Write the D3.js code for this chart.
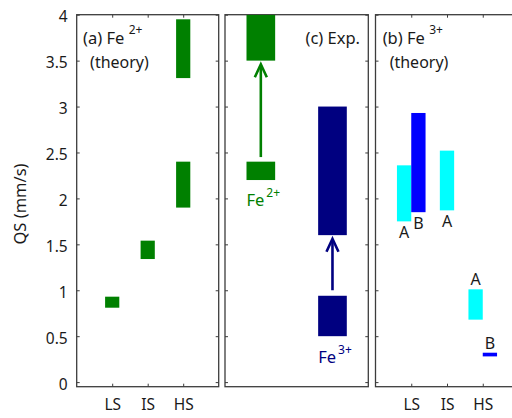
<!DOCTYPE html>
<meta charset="utf-8">
<script src="https://cdn.jsdelivr.net/npm/d3@7"></script>
<style>
body { margin: 0; background: #fff; }
svg text { font-family: "Noto Sans", "Open Sans", sans-serif; fill: #1a1a1a; }
.tick line { stroke: #3c3c3c; stroke-width: 1; }
.tick text { font-size: 15.5px; fill: #1a1a1a; }
.frame { fill: none; stroke: #3c3c3c; stroke-width: 1.3; }
</style>
<body>
<script>

// spin states on the x axis
var states = ["LS", "IS", "HS"]
var yTicks = [0, 0.5, 1, 1.5, 2, 2.5, 3, 3.5, 4]
var yTickLabels = ["0", "0.5", "1", "1.5", "2", "2.5", "3", "3.5", "4"]

// (a) Fe2+ theory: QS ranges per spin state
var fe2State = ["LS", "IS", "HS", "HS"]
var fe2Lo = [0.81, 1.34, 1.90, 3.31]
var fe2Hi = [0.93, 1.54, 2.40, 3.95]

// (b) Fe3+ theory: QS ranges per spin state and site
var fe3State = ["LS", "LS", "IS", "HS", "HS"]
var fe3Site = ["A", "B", "A", "A", "B"]
var fe3Lo = [1.75, 1.85, 1.87, 0.68, 0.28]
var fe3Hi = [2.36, 2.93, 2.52, 1.01, 0.32]

// (c) experiment: ranges for Fe2+ and Fe3+, arrows between them
var expFe2Lo = [2.20, 3.50]
var expFe2Hi = [2.40, 4.00]
var expFe3Lo = [0.50, 1.60]
var expFe3Hi = [0.94, 3.00]
var arrowFe2 = [2.45, 3.46]
var arrowFe3 = [1.00, 1.56]

var green = "#008000", navy = "#000080", cyan = "#00ffff", blue = "#0000ff"

var svg = d3.select("body").append("svg")
            .attr("width", 512)
            .attr("height", 418)

var top_ = 14.7, bottom = 386.7
var y = d3.scaleLinear().domain([-0.05, 4]).range([bottom, top_])

var panels = {
  a: [76.7, 218.7],
  c: [225, 368.3],
  b: [375.5, 518.5]
}

function make_panel(name, opts) {
  var r = panels[name]
  var x = d3.scaleLinear().domain([0, 4]).range(r)
  var g = svg.append("g").attr("id", "panel_" + name)

  // left y ticks
  g.append("g")
   .attr("transform", "translate(" + r[0] + ",0)")
   .call(d3.axisLeft(y).tickValues(yTicks).tickSize(-3).tickPadding(9)
           .tickFormat(function(d, i) { return opts.yLabels ? yTickLabels[i] : "" }))
   .call(function(s) { s.select(".domain").remove(); s.selectAll("text").attr("dy", "0.45em") })
  // right y ticks
  g.append("g")
   .attr("transform", "translate(" + r[1] + ",0)")
   .call(d3.axisRight(y).tickValues(yTicks).tickSize(-3).tickFormat(""))
   .call(function(s) { s.select(".domain").remove() })

  if (opts.xTicks) {
    g.append("g")
     .attr("transform", "translate(0," + bottom + ")")
     .call(d3.axisBottom(x).tickValues([1, 2, 3]).tickSize(-3).tickPadding(12)
             .tickFormat(function(d, i) { return states[i] }))
     .call(function(s) { s.select(".domain").remove() })
    g.append("g")
     .attr("transform", "translate(0," + top_ + ")")
     .call(d3.axisTop(x).tickValues([1, 2, 3]).tickSize(-3).tickFormat(""))
     .call(function(s) { s.select(".domain").remove() })
  }

  g.append("rect")
   .attr("class", "frame")
   .attr("x", r[0]).attr("y", top_)
   .attr("width", r[1] - r[0]).attr("height", bottom - top_)

  var clipId = "clip_" + name
  svg.append("clipPath").attr("id", clipId).append("rect")
     .attr("x", r[0]).attr("y", top_)
     .attr("width", r[1] - r[0]).attr("height", bottom - top_)
  var plot = g.append("g").attr("clip-path", "url(#" + clipId + ")")

  return { x: x, g: g, plot: plot }
}

var pa = make_panel("a", { yLabels: true, xTicks: true })
var pc = make_panel("c", { yLabels: false, xTicks: false })
var pb = make_panel("b", { yLabels: false, xTicks: true })

function stateX(s) { return states.indexOf(s) + 1 }

// ---- panel (a)
pa.plot.selectAll("rect.bar")
  .data(fe2State)
  .enter().append("rect")
  .attr("class", "bar")
  .attr("x", function(d) { return pa.x(stateX(d) - 0.2) })
  .attr("width", function(d) { return pa.x(stateX(d) + 0.2) - pa.x(stateX(d) - 0.2) })
  .attr("y", function(d, i) { return y(fe2Hi[i]) })
  .attr("height", function(d, i) { return y(fe2Lo[i]) - y(fe2Hi[i]) })
  .style("fill", green)

function title(p, xv, lines, sup, anchor) {
  var t = p.g.append("text")
     .attr("x", p.x(xv)).attr("y", top_ + 29.5)
     .style("font-size", "16.5px")
     .style("text-anchor", anchor || "start")
     .text(lines[0])
  if (sup) {
    t.append("tspan").text(" ")
    t.append("tspan").attr("dy", -10).style("font-size", "12px").text(sup)
  }
  if (lines[1]) {
    p.g.append("text")
     .attr("x", p.x(xv) + 7).attr("y", top_ + 53.5)
     .style("font-size", "16px")
     .text(lines[1])
  }
}

title(pa, 0.18, ["(a) Fe", "(theory)"], "2+")
title(pb, 0.2, ["(b) Fe", "(theory)"], "3+")
title(pc, 3.77, ["(c) Exp."], null, "end")

// ---- panel (b)
function siteOffset(i) {
  var s = fe3State[i]
  var both = fe3State.filter(function(v) { return v == s }).length > 1
  if (!both) return [-0.2, 0.2]
  return fe3Site[i] == "A" ? [-0.4, 0] : [0, 0.4]
}

pb.plot.selectAll("rect.bar")
  .data(fe3State)
  .enter().append("rect")
  .attr("class", "bar")
  .attr("x", function(d, i) { return pb.x(stateX(d) + siteOffset(i)[0]) })
  .attr("width", function(d, i) { return pb.x(stateX(d) + siteOffset(i)[1]) - pb.x(stateX(d) + siteOffset(i)[0]) })
  .attr("y", function(d, i) { return y(fe3Hi[i]) })
  .attr("height", function(d, i) { return y(fe3Lo[i]) - y(fe3Hi[i]) })
  .style("fill", function(d, i) { return fe3Site[i] == "A" ? cyan : blue })

pb.g.selectAll("text.site")
  .data(fe3State)
  .enter().append("text")
  .attr("class", "site")
  .attr("x", function(d, i) { var o = siteOffset(i); return pb.x(stateX(d) + (o[0] + o[1]) / 2) })
  .attr("y", function(d, i) {
    return d == "HS" ? y(fe3Hi[i]) - 4 : y(fe3Lo[i]) + 17
  })
  .style("text-anchor", "middle")
  .style("font-size", "16px")
  .text(function(d, i) { return fe3Site[i] })

// ---- panel (c)
function expBars(lo, hi, xc, color) {
  pc.plot.selectAll(null)
    .data(lo)
    .enter().append("rect")
    .attr("x", pc.x(xc - 0.4))
    .attr("width", pc.x(xc + 0.4) - pc.x(xc - 0.4))
    .attr("y", function(d, i) { return y(hi[i]) })
    .attr("height", function(d, i) { return y(d) - y(hi[i]) })
    .style("fill", color)
}
expBars(expFe2Lo, expFe2Hi, 1, green)
expBars(expFe3Lo, expFe3Hi, 3, navy)

function arrow(a, xc, color) {
  var xx = pc.x(xc)
  pc.g.append("line")
    .attr("x1", xx).attr("x2", xx)
    .attr("y1", y(a[0])).attr("y2", y(a[1]) + 1)
    .style("stroke", color).style("stroke-width", 2.6)
  pc.g.append("path")
    .attr("d", "M" + (xx - 6) + "," + (y(a[1]) + 13) + "L" + xx + "," + y(a[1]) + "L" + (xx + 6) + "," + (y(a[1]) + 13))
    .style("fill", "none").style("stroke", color).style("stroke-width", 2.6)
}
arrow(arrowFe2, 1, green)
arrow(arrowFe3, 3, navy)

function ionLabel(xv, yv, sup, color) {
  var t = pc.g.append("text")
    .attr("x", pc.x(xv)).attr("y", y(yv))
    .style("font-size", "16.5px")
    .style("fill", color)
    .text("Fe")
  t.append("tspan").attr("dx", 2).attr("dy", -9).style("font-size", "12px").style("fill", color).text(sup)
}
ionLabel(0.6, 1.92, "2+", green)
ionLabel(2.6, 0.21, "3+", navy)

// y label
svg.append("text")
   .attr("transform", "translate(26," + 204 + ") rotate(-90)")
   .style("text-anchor", "middle")
   .style("font-size", "16.5px")
   .text("QS (mm/s)")

</script>
</body>
